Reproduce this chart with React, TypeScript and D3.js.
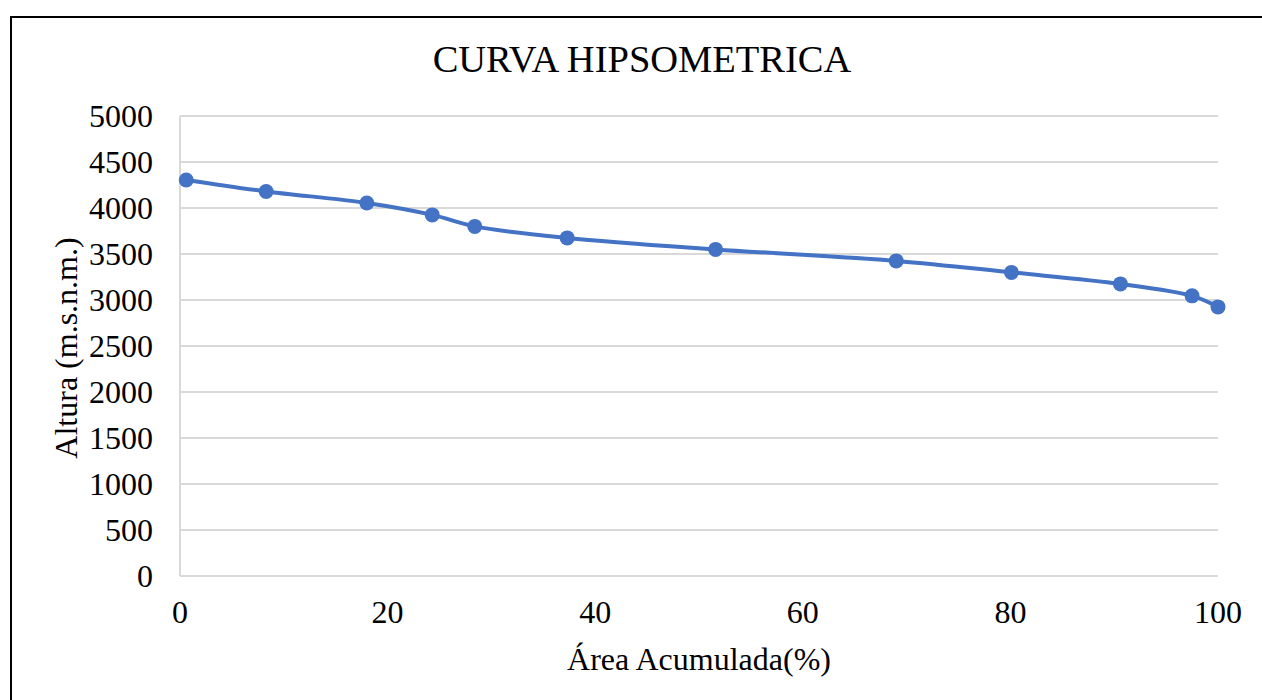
import { useEffect, useRef } from "react";
import * as d3 from "d3";

// Área acumulada (%) vs altura (m.s.n.m.)
const areaAcumulada = [0.6, 8.3, 18.0, 24.3, 28.4, 37.3, 51.6, 69.0, 80.1, 90.6, 97.5, 100];
const altura = [4305, 4180, 4055, 3925, 3800, 3675, 3550, 3425, 3300, 3175, 3045, 2925];
const xTicks = [0, 20, 40, 60, 80, 100];
const yTicks = [0, 500, 1000, 1500, 2000, 2500, 3000, 3500, 4000, 4500, 5000];

export default function App() {
  const ref = useRef<SVGSVGElement>(null);

  useEffect(() => {
    if (!ref.current) return;
    const W = 1262;
    const H = 700;
    const left = 180;
    const right = 1218;
    const top = 116;
    const bottom = 576;
    const font = "'Liberation Serif', 'Times New Roman', serif";

    const svg = d3.select(ref.current);
    svg.selectAll("*").remove();
    svg.attr("width", W).attr("height", H);

    svg.append("rect").attr("width", W).attr("height", H).attr("fill", "#fff");

    // chart frame
    svg
      .append("rect")
      .attr("x", 11)
      .attr("y", 17)
      .attr("width", W + 20)
      .attr("height", H + 20)
      .attr("fill", "none")
      .attr("stroke", "#000")
      .attr("stroke-width", 2);

    const x = d3.scaleLinear().domain([0, 100]).range([left, right]);
    const y = d3.scaleLinear().domain([0, 5000]).range([bottom, top]);

    // gridlines
    svg
      .append("g")
      .selectAll("line")
      .data(yTicks)
      .enter()
      .append("line")
      .attr("x1", left)
      .attr("x2", right)
      .attr("y1", (d) => y(d))
      .attr("y2", (d) => y(d))
      .attr("stroke", "#d9d9d9")
      .attr("stroke-width", 2);

    svg
      .append("line")
      .attr("x1", left)
      .attr("x2", left)
      .attr("y1", top)
      .attr("y2", bottom)
      .attr("stroke", "#d9d9d9")
      .attr("stroke-width", 2);

    // tick labels
    svg
      .append("g")
      .selectAll("text")
      .data(yTicks)
      .enter()
      .append("text")
      .attr("x", left - 27)
      .attr("y", (d) => y(d))
      .attr("dy", "0.35em")
      .attr("text-anchor", "end")
      .style("font-family", font)
      .style("font-size", "32px")
      .text((d) => d);

    svg
      .append("g")
      .selectAll("text")
      .data(xTicks)
      .enter()
      .append("text")
      .attr("x", (d) => x(d))
      .attr("y", bottom + 47)
      .attr("text-anchor", "middle")
      .style("font-family", font)
      .style("font-size", "32px")
      .text((d) => d);

    // title + axis titles
    svg
      .append("text")
      .attr("x", (left + right) / 2 - 57)
      .attr("y", 72)
      .attr("text-anchor", "middle")
      .style("font-family", font)
      .style("font-size", "38.5px")
      .text("CURVA HIPSOMETRICA");

    svg
      .append("text")
      .attr("x", (left + right) / 2)
      .attr("y", 670)
      .attr("text-anchor", "middle")
      .style("font-family", font)
      .style("font-size", "32px")
      .text("Área Acumulada(%)");

    svg
      .append("text")
      .attr("transform", `translate(77, ${(top + bottom) / 2 + 2}) rotate(-90)`)
      .attr("text-anchor", "middle")
      .style("font-family", font)
      .style("font-size", "32px")
      .text("Altura (m.s.n.m.)");

    // series
    const pts = areaAcumulada.map((a, i) => [a, altura[i]] as [number, number]);
    const line = d3
      .line<[number, number]>()
      .x((d) => x(d[0]))
      .y((d) => y(d[1]))
      .curve(d3.curveCatmullRom.alpha(0.5));

    svg
      .append("path")
      .datum(pts)
      .attr("d", line)
      .attr("fill", "none")
      .attr("stroke", "#4472c4")
      .attr("stroke-width", 4);

    svg
      .append("g")
      .selectAll("circle")
      .data(pts)
      .enter()
      .append("circle")
      .attr("cx", (d) => x(d[0]))
      .attr("cy", (d) => y(d[1]))
      .attr("r", 7.5)
      .attr("fill", "#4472c4");
  }, []);

  return <svg ref={ref} style={{ position: "absolute", left: 0, top: 0 }} />;
}
